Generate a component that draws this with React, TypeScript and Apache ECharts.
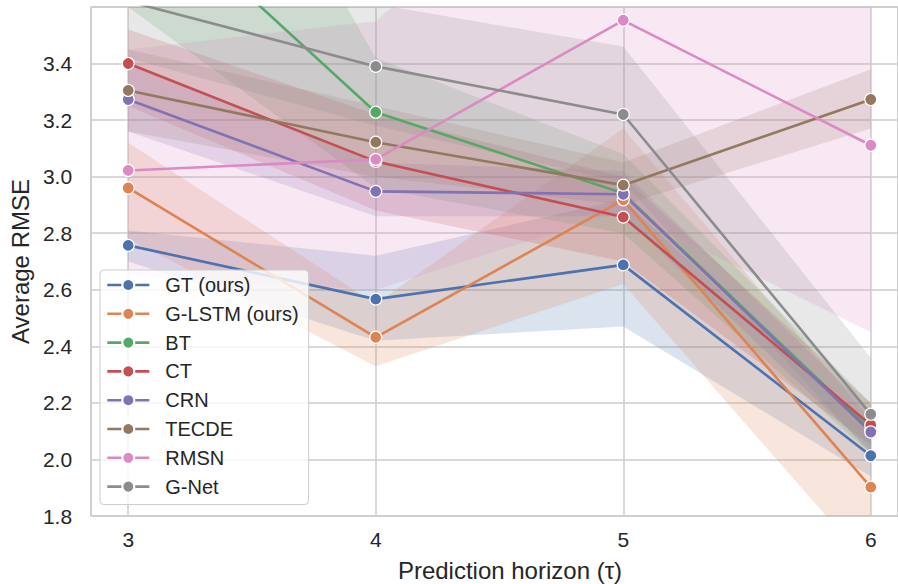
import React, { useEffect, useRef } from "react";
import * as echarts from "echarts";

const horizons = [3, 4, 5, 6];
const yTicks = [1.8, 2.0, 2.2, 2.4, 2.6, 2.8, 3.0, 3.2, 3.4];

const seriesNames = ["GT (ours)", "G-LSTM (ours)", "BT", "CT", "CRN", "TECDE", "RMSN", "G-Net"];
const colors = ["#4c72b0", "#dd8452", "#55a868", "#c44e52", "#8172b3", "#937860", "#da8bc3", "#8c8c8c"];

const xTitle = "Prediction horizon (τ)";
const yTitle = "Average RMSE";

const gtMean = [2.757, 2.567, 2.688, 2.013];
const gtLo = [2.70, 2.42, 2.47, 1.94];
const gtHi = [2.81, 2.72, 2.92, 2.10];

const glstmMean = [2.960, 2.432, 2.918, 1.902];
const glstmLo = [2.78, 2.33, 2.62, 1.62];
const glstmHi = [3.12, 2.55, 3.17, 2.14];

const btMean = [4.03, 3.228, 2.941, 2.105];
const btLo = [3.60, 2.96, 2.80, 2.02];
const btHi = [4.95, 3.42, 3.08, 2.20];

const ctMean = [3.400, 3.054, 2.857, 2.122];
const ctLo = [3.25, 2.88, 2.70, 2.05];
const ctHi = [3.52, 3.22, 3.00, 2.20];

const crnMean = [3.273, 2.948, 2.938, 2.097];
const crnLo = [3.16, 2.86, 2.86, 2.03];
const crnHi = [3.40, 3.05, 3.02, 2.17];

const tecdeMean = [3.305, 3.122, 2.970, 3.273];
const tecdeLo = [3.16, 3.00, 2.90, 3.17];
const tecdeHi = [3.45, 3.25, 3.05, 3.38];

const rmsnMean = [3.022, 3.061, 3.553, 3.111];
const rmsnLo = [2.65, 2.60, 2.88, 2.45];
const rmsnHi = [3.45, 3.55, 4.30, 3.90];

const gnetMean = [3.62, 3.390, 3.220, 2.160];
const gnetLo = [3.42, 3.18, 2.98, 2.02];
const gnetHi = [3.85, 3.61, 3.46, 2.36];

const means = [gtMean, glstmMean, btMean, ctMean, crnMean, tecdeMean, rmsnMean, gnetMean];
const los = [gtLo, glstmLo, btLo, ctLo, crnLo, tecdeLo, rmsnLo, gnetLo];
const his = [gtHi, glstmHi, btHi, ctHi, crnHi, tecdeHi, rmsnHi, gnetHi];

const FONT = "'Liberation Sans', Arial, Helvetica, sans-serif";
const TEXT = "#262626";
const GRID = "#cccccc";

function hexToRgba(hex: string, a: number) {
  const n = parseInt(hex.slice(1), 16);
  return `rgba(${(n >> 16) & 255},${(n >> 8) & 255},${n & 255},${a})`;
}

export default function App() {
  const ref = useRef<HTMLDivElement>(null);

  useEffect(() => {
    if (!ref.current) return;
    const chart = echarts.init(ref.current, null, { renderer: "svg" });

    const bandSeries = seriesNames.map((name, s) => ({
      type: "custom",
      name: name + " band",
      silent: true,
      z: 1,
      data: horizons.map((x, i) => [x, los[s][i], his[s][i]]),
      encode: { x: 0, y: [1, 2] },
      renderItem: (params: any, api: any) => {
        if (params.dataIndex !== 0) return null;
        const upper = horizons.map((x, i) => api.coord([x, his[s][i]]));
        const lower = horizons.map((x, i) => api.coord([x, los[s][i]])).reverse();
        const cs = params.coordSys;
        return {
          type: "polygon",
          shape: { points: upper.concat(lower) },
          style: { fill: hexToRgba(colors[s], 0.2), stroke: "none" },
          clipPath: { type: "rect", shape: { x: cs.x, y: cs.y, width: cs.width, height: cs.height } },
        };
      },
    }));

    const lineSeries = seriesNames.map((name, s) => ({
      type: "line",
      name,
      z: 3,
      data: horizons.map((x, i) => [x, means[s][i]]),
      symbol: "circle",
      symbolSize: 12,
      showSymbol: true,
      clip: true,
      color: colors[s],
      lineStyle: { color: colors[s], width: 2.6 },
      itemStyle: { color: colors[s], borderColor: "#ffffff", borderWidth: 1.2 },
      emphasis: { disabled: true },
    }));

    chart.setOption({
      animation: false,
      backgroundColor: "#ffffff",
      textStyle: { fontFamily: FONT },
      grid: {
        left: 91,
        right: 0,
        top: 7,
        bottom: 68,
        show: true,
        borderColor: GRID,
        borderWidth: 1.5,
        backgroundColor: "transparent",
      },
      graphic: [
        {
          type: "text",
          x: 510,
          y: 558,
          silent: true,
          style: {
            text: xTitle,
            font: `24px ${FONT}`,
            fill: TEXT,
            textAlign: "center",
            textVerticalAlign: "top",
          },
        },
      ],
      legend: {
        data: seriesNames,
        orient: "vertical",
        left: 100,
        top: 270,
        padding: [5, 10, 8, 6],
        itemWidth: 42,
        itemHeight: 15,
        itemGap: 8.8,
        backgroundColor: "rgba(255,255,255,0.8)",
        borderColor: GRID,
        borderWidth: 1,
        borderRadius: 4,
        lineStyle: { width: 2.6 },
        textStyle: {
          fontFamily: FONT,
          fontSize: 20,
          lineHeight: 20,
          color: TEXT,
          padding: [0, 0, 0, 11],
        },
      },
      xAxis: {
        type: "value",
        min: 2.85,
        max: 6.11,
        minInterval: 1,
        maxInterval: 1,
        axisLine: { show: false },
        axisTick: { show: false },
        axisLabel: {
          showMinLabel: false,
          showMaxLabel: false,
          fontFamily: FONT,
          fontSize: 21,
          color: TEXT,
          margin: 13,
          formatter: (v: number) => (horizons.includes(v) ? String(v) : ""),
        },
        splitLine: { show: true, lineStyle: { color: GRID, width: 1.5 } },
      },
      yAxis: {
        type: "value",
        min: 1.8,
        max: 3.6,
        interval: 0.2,
        name: yTitle,
        nameLocation: "middle",
        nameGap: 59,
        nameRotate: 90,
        nameTextStyle: { fontFamily: FONT, fontSize: 24, color: TEXT },
        axisLine: { show: false },
        axisTick: { show: false },
        axisLabel: {
          showMaxLabel: false,
          fontFamily: FONT,
          fontSize: 21,
          color: TEXT,
          margin: 19,
          formatter: (v: number) => {
            const r = Math.round(v * 10) / 10;
            return yTicks.some((t) => Math.abs(t - r) < 1e-6) ? r.toFixed(1) : "";
          },
        },
        splitLine: { show: true, lineStyle: { color: GRID, width: 1.5 } },
      },
      series: [...bandSeries, ...lineSeries],
    });

    return () => chart.dispose();
  }, []);

  return (
    <div
      ref={ref}
      style={{ position: "fixed", left: 0, top: 0, width: 898, height: 584, overflow: "hidden" }}
    />
  );
}
